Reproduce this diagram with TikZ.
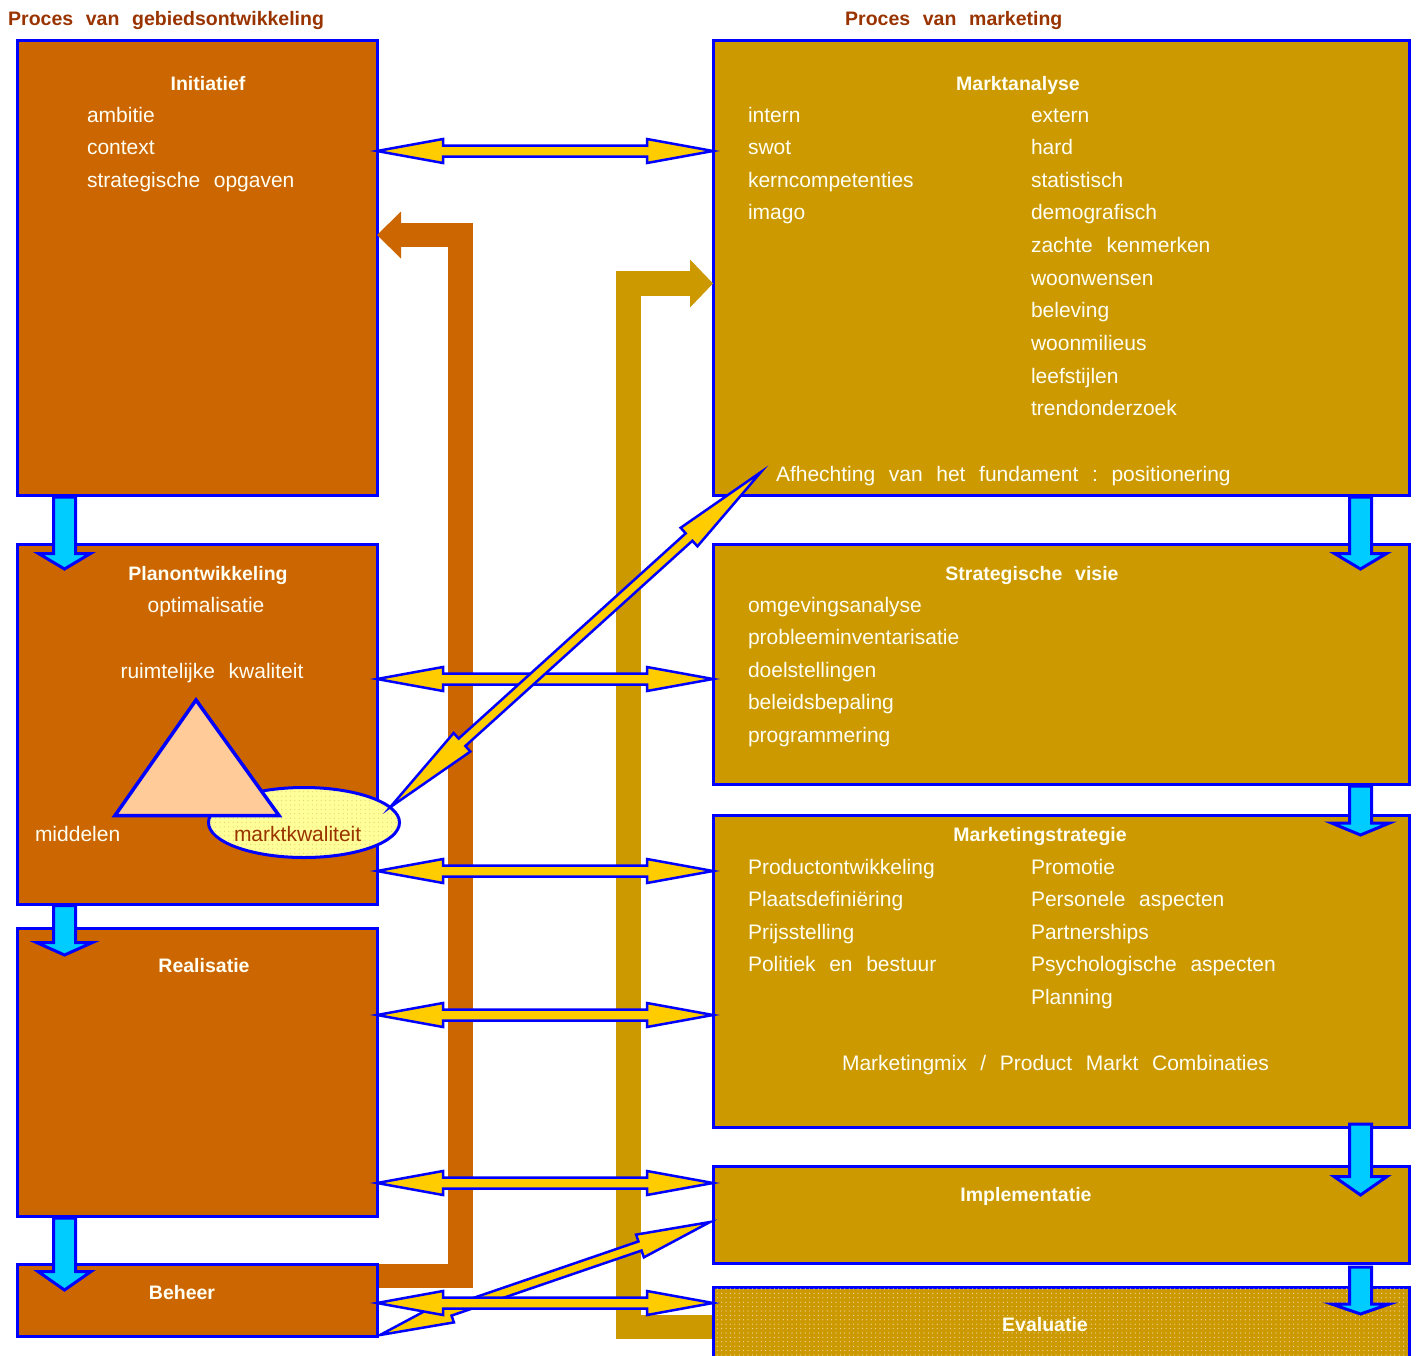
\documentclass[tikz,border=0pt]{standalone}
\usepackage{fontspec}
\setmainfont{Liberation Sans}
\usetikzlibrary{calc,patterns,shapes.geometric}

\definecolor{gebied}{HTML}{CC6600}
\definecolor{markt}{HTML}{CC9900}
\definecolor{pijl}{HTML}{FFCC00}
\definecolor{stroom}{HTML}{00CCFF}
\definecolor{rand}{HTML}{0000FF}
\definecolor{kop}{HTML}{993300}
\definecolor{driehoek}{HTML}{FFCC99}
\definecolor{ellips}{HTML}{FFFF99}
\definecolor{tekst}{HTML}{FFFFF4}

% sparse dot raster
\pgfdeclarepatternformonly{sparsedots}{\pgfqpoint{-1pt}{-1pt}}{\pgfqpoint{1pt}{1pt}}{\pgfqpoint{4.4pt}{4.4pt}}%
  {\pgfpathcircle{\pgfqpoint{0pt}{0pt}}{0.6pt}\pgfusepath{fill}}

% wide word gap
\newcommand{\wgap}{\hspace{0.65em}}

% fat double-headed arrow: start, end, head length, head half width, shaft half width
\newcommand{\fatdouble}[5]{%
  \draw[yarrow] (#1)
    -- ($(#1)!#3!(#2)!#4!90:(#2)$)
    -- ($(#1)!#3!(#2)!#5!90:(#2)$)
    -- ($(#2)!#3!(#1)!#5!-90:(#1)$)
    -- ($(#2)!#3!(#1)!#4!-90:(#1)$)
    -- (#2)
    -- ($(#2)!#3!(#1)!#4!90:(#1)$)
    -- ($(#2)!#3!(#1)!#5!90:(#1)$)
    -- ($(#1)!#3!(#2)!#5!-90:(#2)$)
    -- ($(#1)!#3!(#2)!#4!-90:(#2)$)
    -- cycle;}

% fat single-headed arrow: start, end, head length, head half width, shaft half width
\newcommand{\fatsingle}[5]{%
  \draw[carrow] ($(#1)!#5!90:(#2)$)
    -- ($(#2)!#3!(#1)!#5!-90:(#1)$)
    -- ($(#2)!#3!(#1)!#4!-90:(#1)$)
    -- (#2)
    -- ($(#2)!#3!(#1)!#4!90:(#1)$)
    -- ($(#2)!#3!(#1)!#5!90:(#1)$)
    -- ($(#1)!#5!-90:(#2)$)
    -- cycle;}

\tikzset{
  box/.style={draw=rand, line width=3pt, anchor=north west, inner sep=0pt, outer sep=0pt},
  lbox/.style={box, fill=gebied},
  rbox/.style={box, fill=markt},
  body/.style={text=tekst, font=\fontsize{21}{25}\selectfont, anchor=base west, inner sep=0pt, outer sep=0pt},
  titel/.style={text=tekst, font=\fontsize{19.5}{23}\selectfont\bfseries, anchor=base, inner sep=0pt, outer sep=0pt},
  kopje/.style={text=kop, font=\fontsize{19.5}{23}\selectfont\bfseries, anchor=base west, inner sep=0pt},
  yarrow/.style={draw=rand, fill=pijl, line width=2.5pt, line join=miter},
  carrow/.style={draw=rand, fill=stroom, line width=3pt, line join=miter},
  band/.style={line width=24.5pt, line join=miter, line cap=butt},
}

\begin{document}
\begin{tikzpicture}[x=1pt, y=-1pt]
\useasboundingbox (0,0) rectangle (1419,1355);
\clip (0,0) rectangle (1419,1355);
\fill[white] (0,0) rectangle (1419,1355);

% column headings
\node[kopje] (kop-l) at (8,25) {Proces\wgap van\wgap gebiedsontwikkeling};
\node[kopje] (kop-r) at (845,25) {Proces\wgap van\wgap marketing};

% ---- left column: gebiedsontwikkeling
\node[lbox, minimum width=360pt, minimum height=455pt] (ini)  at (17,40)   {};
\node[lbox, minimum width=360pt, minimum height=360pt] (plan) at (17,544)  {};
\node[lbox, minimum width=360pt, minimum height=288pt] (real) at (17,928)  {};
\node[lbox, minimum width=360pt, minimum height=72pt]  (beh)  at (17,1264) {};

% ---- right column: marketing
\node[rbox, minimum width=696pt, minimum height=455pt] (mkt)   at (713,40)   {};
\node[rbox, minimum width=696pt, minimum height=240pt] (vis)   at (713,544)  {};
\node[rbox, minimum width=696pt, minimum height=312pt] (strat) at (713,815)  {};
\node[rbox, minimum width=696pt, minimum height=97pt]  (impl)  at (713,1166) {};
\node[rbox, minimum width=696pt, minimum height=120pt] (eval)  at (713,1287) {};
\fill[pattern=sparsedots, pattern color=white!70!markt]
  ([shift={(1.5pt,-1.5pt)}]eval.north west) rectangle ([shift={(-1.5pt,1.5pt)}]eval.south east);

% ---- feedback bands between the columns
\coordinate (o1) at ($(beh.north east)+(1.5,12)$);
\coordinate (o2) at (ini.east |- 0,235);
\draw[band, gebied] (o1) -| (460.5,235) -- ($(o2)+(24,0)$);
\fill[gebied] ($(o2)+(24,-23.5)$) -- (o2) -- ($(o2)+(24,23.5)$) -- cycle;

\coordinate (g1) at ($(eval.north west)+(-1.5,40)$);
\coordinate (g2) at (mkt.west |- 0,283.5);
\draw[band, markt] (g1) -| (628.5,283.5) -- ($(g2)+(-23,0)$);
\fill[markt] ($(g2)+(-23,-24)$) -- (g2) -- ($(g2)+(-23,24)$) -- cycle;

% ---- quality triangle
\node[draw=rand, line width=3pt, fill=ellips, ellipse, minimum width=191pt, minimum height=70pt,
      inner sep=0pt, outer sep=0pt] (ell) at (304,822.5) {};
\fill[pattern=sparsedots, pattern color=ellips!75!kop] (ell.center) ellipse [x radius=93.5pt, y radius=33pt];
\draw[draw=rand, fill=driehoek, line width=3.5pt, line join=miter]
  (196,700) -- (115,815.5) -- (279,815.5) -- cycle;

% ---- texts left column
\node[titel] (ini-t) at (208,90) {Initiatief};
\foreach \t [count=\i] in {ambitie, context, strategische\wgap opgaven}
  {\node[body] (ini-\i) at (87,{122+32.65*(\i-1)}) {\t};}

\node[titel] (plan-t) at (208,580) {Planontwikkeling};
\node[body, anchor=base] (plan-1) at (206,612) {optimalisatie};
\node[body, anchor=base] (plan-2) at (212,678) {ruimtelijke\wgap kwaliteit};
\node[body] (plan-3) at (35,841) {middelen};
\node[body, text=kop] (plan-4) at (234,841) {marktkwaliteit};

\node[titel] (real-t) at (204,972) {Realisatie};
\node[titel] (beh-t) at (182,1299) {Beheer};

% ---- texts right column
\node[titel] (mkt-t) at (1018,90) {Marktanalyse};
\foreach \t [count=\i] in {intern, swot, kerncompetenties, imago}
  {\node[body] (mkt-l\i) at (748,{122+32.65*(\i-1)}) {\t};}
\foreach \t [count=\i] in {extern, hard, statistisch, demografisch, zachte\wgap kenmerken,
    woonwensen, beleving, woonmilieus, leefstijlen, trendonderzoek}
  {\node[body] (mkt-r\i) at (1031,{122+32.65*(\i-1)}) {\t};}
\node[body] (mkt-f) at (776,481) {Afhechting\wgap van\wgap het\wgap fundament\wgap :\wgap positionering};

\node[titel] (vis-t) at (1032,580) {Strategische\wgap visie};
\foreach \t [count=\i] in {omgevingsanalyse, probleeminventarisatie, doelstellingen,
    beleidsbepaling, programmering}
  {\node[body] (vis-\i) at (748,{612+32.65*(\i-1)}) {\t};}

\node[titel] (strat-t) at (1040,841) {Marketingstrategie};
\foreach \t [count=\i] in {Productontwikkeling, Plaatsdefiniëring, Prijsstelling,
    Politiek\wgap en\wgap bestuur}
  {\node[body] (strat-l\i) at (748,{874+32.65*(\i-1)}) {\t};}
\foreach \t [count=\i] in {Promotie, Personele\wgap aspecten, Partnerships,
    Psychologische\wgap aspecten, Planning}
  {\node[body] (strat-r\i) at (1031,{874+32.65*(\i-1)}) {\t};}
\node[body] (strat-m) at (842,1070) {Marketingmix\wgap /\wgap Product\wgap Markt\wgap Combinaties};

\node[titel] (impl-t) at (1026,1201) {Implementatie};
\node[titel] (eval-t) at (1045,1331) {Evaluatie};

% ---- phase arrows, left column
\coordinate (c1a) at ($(ini.south west)+(47.5,2)$);
\coordinate (c1b) at ($(plan.north west)+(47.5,25)$);
\coordinate (c2a) at ($(plan.south west)+(47.5,1.5)$);
\coordinate (c2b) at ($(real.north west)+(47.5,27)$);
\coordinate (c3a) at ($(real.south west)+(47.5,2)$);
\coordinate (c3b) at ($(beh.north west)+(47.5,26)$);
\fatsingle{c1a}{c1b}{15.5pt}{26pt}{11pt}
\fatsingle{c2a}{c2b}{12.5pt}{28pt}{11pt}
\fatsingle{c3a}{c3b}{18.5pt}{26.5pt}{11pt}

% ---- phase arrows, right column
\coordinate (d1a) at ($(mkt.south east)+(-48.5,2)$);
\coordinate (d1b) at ($(vis.north east)+(-48.5,25)$);
\coordinate (d2a) at ($(vis.south east)+(-48.5,2)$);
\coordinate (d2b) at ($(strat.north east)+(-48.5,20)$);
\coordinate (d3a) at ($(strat.south east)+(-48.5,-3)$);
\coordinate (d3b) at ($(impl.north east)+(-48.5,29)$);
\coordinate (d4a) at ($(impl.south east)+(-48.5,4)$);
\coordinate (d4b) at ($(eval.north east)+(-48.5,27)$);
\fatsingle{d1a}{d1b}{15.5pt}{26pt}{11pt}
\fatsingle{d2a}{d2b}{12pt}{29pt}{11pt}
\fatsingle{d3a}{d3b}{18.5pt}{26.5pt}{11pt}
\fatsingle{d4a}{d4b}{10pt}{29pt}{11pt}

% ---- Beheer to Implementatie
\coordinate (e1a) at ($(beh.south east)+(3,-1)$);
\coordinate (e1b) at ($(impl.west)+(-3,7.5)$);
\fatdouble{e1a}{e1b}{74pt}{12pt}{4.8pt}

% ---- exchanges between the two processes
\coordinate (h1a) at (ini.east |- 0,151);   \coordinate (h1b) at (mkt.west |- 0,151);
\coordinate (h2a) at (plan.east |- 0,679);  \coordinate (h2b) at (vis.west |- 0,679);
\coordinate (h3a) at (plan.east |- 0,871);  \coordinate (h3b) at (strat.west |- 0,871);
\coordinate (h4a) at (real.east |- 0,1015); \coordinate (h4b) at (strat.west |- 0,1015);
\coordinate (h5a) at (real.east |- 0,1183); \coordinate (h5b) at (impl.west |- 0,1183);
\coordinate (h6a) at (beh.east |- 0,1303);  \coordinate (h6b) at (eval.west |- 0,1303);
\foreach \k in {1,...,6}
  {\fatdouble{h\k a}{h\k b}{66pt}{12pt}{5.5pt}}

% ---- market quality to positioning
\coordinate (afh) at ($(mkt.south west)+(48,-23)$);
\fatdouble{ell.10}{afh}{97pt}{12.5pt}{5pt}

\end{tikzpicture}
\end{document}
